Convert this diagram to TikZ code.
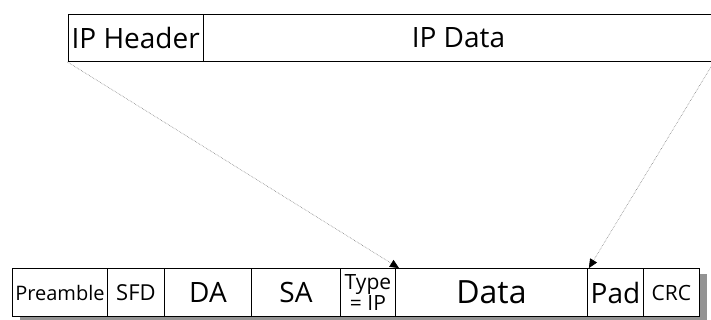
\documentclass[tikz,border=0pt]{standalone}
\usepackage{fontspec}
\setmainfont{Open Sans}
\usetikzlibrary{arrows.meta}
\tikzset{
  cell/.style={draw=black, line width=0.9pt, minimum height=47pt, inner sep=0pt, anchor=south west},
  framecell/.style={draw=black, line width=0.9pt, minimum height=48pt, inner sep=0pt, anchor=south west, fill=white},
  pointer/.style={draw=gray, line width=0.6pt, densely dotted, -{Triangle[length=9pt,width=8pt,fill=black,color=black]}},
}
\begin{document}
\begin{tikzpicture}[x=1pt,y=1pt]
  \useasboundingbox (0,0) rectangle (711,320);
  \begin{scope}
    \clip (0,0) rectangle (711,320);
    % IP packet
    \node[cell, minimum width=135.5pt, font=\fontsize{28}{30}\selectfont] (iphdr) at (67.5,258) {IP Header};
    \node[cell, minimum width=510pt, font=\fontsize{28}{30}\selectfont] (ipdata) at (203,258) {IP Data};
    % drop shadow of the Ethernet frame
    \fill[gray!85] (20,-4) rectangle (707,46);
    % Ethernet frame
    \node[framecell, minimum width=95pt, font=\fontsize{20}{22}\selectfont] (pre) at (12,3) {Preamble};
    \node[framecell, minimum width=57pt, font=\fontsize{22}{22}\selectfont] (sfd) at (107,3) {SFD};
    \node[framecell, minimum width=87pt, font=\fontsize{28}{28}\selectfont] (da) at (164,3) {DA};
    \node[framecell, minimum width=89pt, font=\fontsize{28}{28}\selectfont] (sa) at (251,3) {SA};
    \node[framecell, minimum width=55pt, font=\fontsize{21}{18}\selectfont, align=center] (type) at (340,3) {Type\\= IP};
    \node[framecell, minimum width=192pt, font=\fontsize{32}{32}\selectfont] (data) at (395,3) {Data};
    \node[framecell, minimum width=56pt, font=\fontsize{28}{28}\selectfont] (pad) at (587,3) {Pad};
    \node[framecell, minimum width=56pt, font=\fontsize{21}{22}\selectfont] (crc) at (643,3) {CRC};
    % mapping of the IP packet onto the data field
    \draw[pointer] (iphdr.south west) -- ([xshift=4pt]data.north west);
    \draw[pointer] (ipdata.south east) -- ([xshift=1pt]data.north east);
  \end{scope}
\end{tikzpicture}
\end{document}
